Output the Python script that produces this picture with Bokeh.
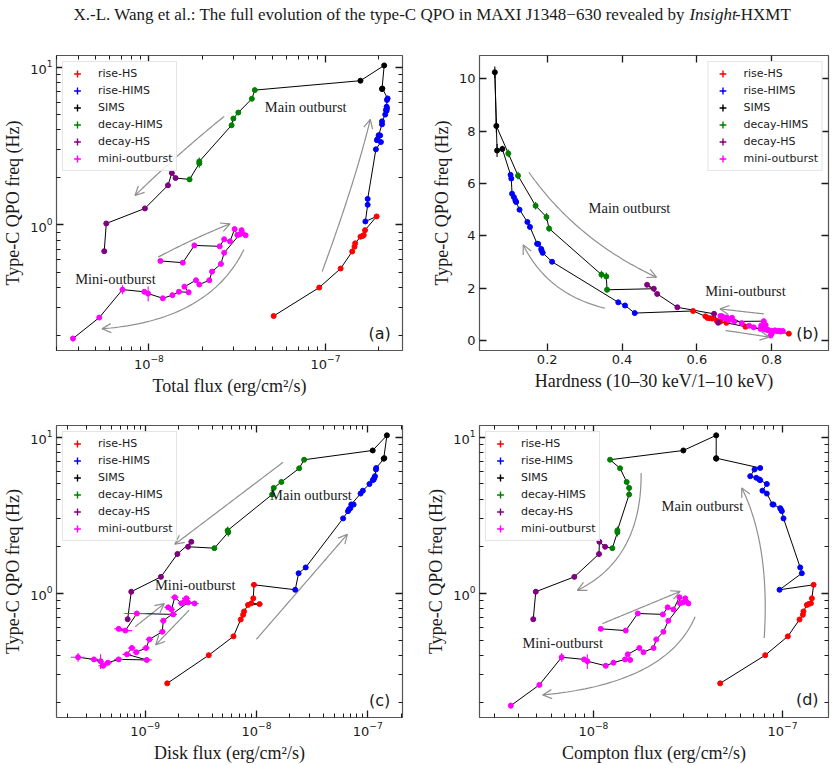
import numpy as np
from bokeh.plotting import figure
from bokeh.layouts import column, row
from bokeh.models import (Range1d, FixedTicker, LogAxis, LinearAxis, Legend,
                          LegendItem, Arrow, OpenHead, CustomJSTickFormatter)
from bokeh.core.properties import value
from bokeh.embed import file_html
from bokeh.resources import INLINE

# ---------------------------------------------------------------------------
# Type-C QPO frequency (Hz) and its error, per spectral state, in time order
# ---------------------------------------------------------------------------
freq_rise_hs = [0.264, 0.40, 0.528, 0.677, 0.726, 0.763, 0.84, 0.85, 0.86, 0.925, 1.13]
freq_rise_hims = [1.05, 1.34, 1.46, 3.01, 3.35, 3.44, 3.50, 3.69, 3.70, 4.34, 4.53,
                  5.00, 5.29, 5.35, 5.48, 5.61, 6.19, 6.33]
freq_sims = [7.32, 7.26, 10.25, 8.20]
freq_decay_hims = [7.15, 6.30, 5.15, 4.72, 4.28, 2.52, 2.45, 1.94]
freq_decay_hs = [1.98, 2.13, 1.78, 1.27, 1.02, 0.68]
freq_mini = [0.59, 0.575, 0.74, 0.73, 0.81, 0.785, 0.94, 0.86, 0.925, 0.885, 0.858, 0.87,
             0.665, 0.565, 0.505, 0.445, 0.418, 0.445, 0.405, 0.373, 0.376, 0.358, 0.342,
             0.366, 0.376, 0.388, 0.258, 0.19]

ferr_rise_hs = [0.006, 0.008, 0.01, 0.012, 0.012, 0.014, 0.015, 0.015, 0.015, 0.02, 0.03]
ferr_rise_hims = [0.02, 0.03, 0.03, 0.05, 0.05, 0.05, 0.05, 0.06, 0.06, 0.06, 0.06,
                  0.07, 0.07, 0.07, 0.07, 0.07, 0.08, 0.08]
ferr_sims = [0.12, 0.25, 0.22, 0.25]
ferr_decay_hims = [0.15, 0.15, 0.14, 0.15, 0.12, 0.15, 0.15, 0.05]
ferr_decay_hs = [0.04, 0.07, 0.07, 0.03, 0.02, 0.02]
ferr_mini = [0.01, 0.01, 0.02, 0.01, 0.01, 0.01, 0.015, 0.01, 0.01, 0.01, 0.01, 0.01,
             0.01, 0.01, 0.01, 0.01, 0.01, 0.01, 0.012, 0.01, 0.01, 0.01, 0.01,
             0.04, 0.01, 0.025, 0.008, 0.008]

# (a) total flux, erg/cm^2/s
tot_rise_hs = [5.09e-8, 9.22e-8, 1.219e-7, 1.417e-7, 1.46e-7, 1.473e-7, 1.578e-7,
               1.626e-7, 1.647e-7, 1.675e-7, 1.949e-7]
tot_rise_hims = [1.683e-7, 1.734e-7, 1.734e-7, 1.93e-7, 2.06e-7, 1.956e-7, 1.97e-7,
                 2.04e-7, 2.0e-7, 2.09e-7, 2.09e-7, 2.18e-7, 2.22e-7, 2.20e-7, 2.23e-7,
                 2.22e-7, 2.23e-7, 2.25e-7]
tot_sims = [2.10e-7, 2.09e-7, 2.15e-7, 1.578e-7]
tot_decay_hims = [3.98e-8, 3.83e-8, 3.21e-8, 3.01e-8, 2.94e-8, 1.93e-8, 1.93e-8, 1.70e-8]
tot_decay_hs = [1.416e-8, 1.35e-8, 1.283e-8, 9.5e-9, 5.74e-9, 5.59e-9]
tot_mini = [1.162e-8, 1.557e-8, 1.81e-8, 2.52e-8, 2.67e-8, 2.88e-8, 3.06e-8, 3.17e-8,
            3.35e-8, 3.38e-8, 3.53e-8, 3.27e-8, 2.67e-8, 2.56e-8, 2.28e-8, 2.20e-8,
            1.93e-8, 1.85e-8, 1.59e-8, 1.68e-8, 1.48e-8, 1.36e-8, 1.20e-8, 9.91e-9,
            9.42e-9, 7.09e-9, 5.24e-9, 3.72e-9]

# (b) hardness ratio, 10-30 keV / 1-10 keV
hr_rise_hs = [0.846, 0.79, 0.730, 0.679, 0.663, 0.653, 0.641, 0.635, 0.629, 0.623, 0.59]
hr_rise_hims = [0.434, 0.408, 0.390, 0.213, 0.188, 0.185, 0.184, 0.176, 0.173, 0.154,
                0.147, 0.126, 0.117, 0.115, 0.111, 0.106, 0.104, 0.102]
hr_sims = [0.080, 0.066, 0.060, 0.064]
hr_decay_hims = [0.096, 0.122, 0.169, 0.198, 0.205, 0.345, 0.358, 0.360]
hr_decay_hs = [0.485, 0.467, 0.494, 0.548, 0.646, 0.657]
hr_mini = [0.784, 0.772, 0.779, 0.70, 0.69, 0.685, 0.663, 0.672, 0.668, 0.68, 0.676,
           0.694, 0.72, 0.74, 0.752, 0.77, 0.782, 0.775, 0.79, 0.80, 0.81, 0.816, 0.824,
           0.83, 0.82, 0.808, 0.80, 0.797]

# (c) disk flux, erg/cm^2/s (last two mini-outburst observations have no disk flux)
disk_rise_hs = [1.58e-9, 3.73e-9, 6.22e-9, 7.22e-9, 7.59e-9, 7.74e-9, 8.4e-9, 1.066e-8,
                9.0e-9, 9.37e-9, 9.5e-9]
disk_rise_hims = [2.23e-8, 2.39e-8, 2.77e-8, 6.0e-8, 6.64e-8, 6.78e-8, 6.97e-8, 7.46e-8,
                  7.11e-8, 8.61e-8, 9.03e-8, 1.035e-7, 1.107e-7, 1.13e-7, 1.145e-7,
                  1.16e-7, 1.185e-7, 1.19e-7]
disk_sims = [1.407e-7, 1.39e-7, 1.485e-7, 1.107e-7]
disk_decay_hims = [2.68e-8, 2.42e-8, 1.675e-8, 1.43e-8, 1.383e-8, 5.51e-9, 5.58e-9, 4.19e-9]
disk_decay_hs = [2.43e-9, 2.6e-9, 1.95e-9, 1.387e-9, 7.51e-10, 6.97e-10]
disk_mini = [5.79e-10, 6.64e-10, 8.43e-10, 1.786e-9, 1.612e-9, 1.725e-9, 1.848e-9,
             2.12e-9, 2.345e-9, 2.27e-9, 2.78e-9, 2.43e-9, 1.456e-9, 1.426e-9, 1.093e-9,
             1.02e-9, 8.32e-10, 7.61e-10, 6.87e-10, 1.035e-9, 5.79e-10, 4.63e-10,
             4.2e-10, 3.98e-10, 3.47e-10, 2.5e-10]
disk_err_rise_hs = [0.5e-10, 1e-10, 1.5e-10, 2e-10, 2e-10, 2e-10, 3e-10, 7e-10, 3e-10,
                    3e-10, 6e-10]
disk_err_mini = [0.5e-10, 1.0e-10, 1.9e-10, 1.5e-10, 1.2e-10, 1.2e-10, 1.5e-10, 1.5e-10,
                 2.0e-10, 1.5e-10, 2.5e-10, 2.0e-10, 1.0e-10, 1.0e-10, 0.8e-10, 0.8e-10,
                 0.6e-10, 0.6e-10, 0.6e-10, 1.1e-10, 0.5e-10, 0.4e-10, 0.4e-10, 0.3e-10,
                 0.3e-10, 0.35e-10]

# (d) Compton flux, erg/cm^2/s
comp_rise_hs = [4.68e-8, 8.1e-8, 1.067e-7, 1.23e-7, 1.281e-7, 1.29e-7, 1.345e-7, 1.373e-7,
                1.413e-7, 1.43e-7, 1.46e-7]
comp_rise_hims = [9.64e-8, 1.265e-7, 1.24e-7, 1.012e-7, 9.92e-8, 9.8e-8, 9.72e-8, 8.96e-8,
                  8.85e-8, 8.26e-8, 7.83e-8, 8.26e-8, 7.62e-8, 7.53e-8, 7.26e-8, 6.75e-8,
                  7.11e-8, 7.62e-8]
comp_sims = [4.46e-8, 4.46e-8, 4.46e-8, 2.99e-8]
comp_decay_hims = [1.225e-8, 1.384e-8, 1.50e-8, 1.545e-8, 1.545e-8, 1.34e-8, 1.34e-8, 1.26e-8]
comp_decay_hs = [1.153e-8, 1.076e-8, 1.071e-8, 7.93e-9, 4.96e-9, 4.81e-9]
comp_mini = [1.094e-8, 1.483e-8, 1.717e-8, 2.33e-8, 2.47e-8, 2.65e-8, 2.85e-8, 2.87e-8,
             3.06e-8, 3.09e-8, 3.18e-8, 2.97e-8, 2.49e-8, 2.345e-8, 2.15e-8, 2.08e-8,
             1.84e-8, 1.75e-8, 1.52e-8, 1.565e-8, 1.47e-8, 1.277e-8, 1.162e-8, 9.29e-9,
             8.93e-9, 6.8e-9, 5.18e-9, 3.66e-9]

STATES = ["rise-HS", "rise-HIMS", "SIMS", "decay-HIMS", "decay-HS", "mini-outburst"]
COLORS = ["#ff0000", "#0000ff", "#000000", "#008000", "#800080", "#ff00ff"]
FREQ = [freq_rise_hs, freq_rise_hims, freq_sims, freq_decay_hims, freq_decay_hs, freq_mini]
FERR = [ferr_rise_hs, ferr_rise_hims, ferr_sims, ferr_decay_hims, ferr_decay_hs, ferr_mini]

SERIF = "Liberation Serif"
SANS = "DejaVu Sans"
INK = "#1a1a1a"
ARROW_C = "#8f8f8f"
YLABEL = "Type-C QPO freq (Hz)"


def log_ticks(lo_exp, hi_exp):
    major = [10.0 ** e for e in range(lo_exp, hi_exp + 1)]
    minor = [m * 10.0 ** e for e in range(lo_exp - 1, hi_exp + 1) for m in range(2, 10)]
    return major, minor


def style_axis(ax):
    ax.major_tick_in = 7
    ax.major_tick_out = 0
    ax.minor_tick_in = 4
    ax.minor_tick_out = 0
    ax.major_tick_line_width = 1.3
    ax.minor_tick_line_width = 1
    ax.major_tick_line_color = INK
    ax.minor_tick_line_color = INK
    ax.axis_line_color = None
    ax.major_label_text_font = SANS
    ax.major_label_text_font_size = "13px"
    ax.major_label_text_color = INK
    ax.major_label_standoff = 4
    ax.axis_label_text_font = SERIF
    ax.axis_label_text_font_size = "18px"
    ax.axis_label_text_font_style = "normal"
    ax.axis_label_text_color = INK
    ax.axis_label_standoff = 4


def tick_only_axis(cls, ticker):
    # frame-side axis that carries ticks only (top and right edges)
    ax = cls(ticker=ticker, formatter=CustomJSTickFormatter(code="return ' '"))
    style_axis(ax)
    ax.major_label_text_font_size = "2px"
    ax.major_label_text_alpha = 0
    ax.major_label_standoff = 0
    return ax


def make_panel(width, height, borders, x_log, x_range, y_log, y_range,
               x_ticks, y_ticks, xlabel):
    left, right, top, bottom = borders
    p = figure(width=width, height=height,
               x_axis_type="log" if x_log else "linear",
               y_axis_type="log" if y_log else "linear",
               x_range=Range1d(*x_range), y_range=Range1d(*y_range),
               toolbar_location=None, output_backend="svg",
               min_border_left=left, min_border_right=right,
               min_border_top=top, min_border_bottom=bottom)
    p.grid.visible = False
    p.outline_line_color = "#555555"
    p.outline_line_width = 1.2
    xt = FixedTicker(ticks=x_ticks[0], minor_ticks=x_ticks[1])
    yt = FixedTicker(ticks=y_ticks[0], minor_ticks=y_ticks[1])
    p.xaxis.ticker = xt
    p.yaxis.ticker = yt
    p.xaxis.axis_label = xlabel
    p.yaxis.axis_label = YLABEL
    for ax in list(p.xaxis) + list(p.yaxis):
        style_axis(ax)
    p.add_layout(tick_only_axis(LogAxis if x_log else LinearAxis, xt), "above")
    p.add_layout(tick_only_axis(LogAxis if y_log else LinearAxis, yt), "right")
    return p


def draw_states(p, xs, xerrs=None):
    # time-ordered track of the main outburst, then of the mini-outburst
    main_x, main_f = [], []
    for i in range(5):
        main_x += list(xs[i])
        main_f += FREQ[i][:len(xs[i])]
    p.line(main_x, main_f, line_color="black", line_width=1)
    mini_x = list(xs[5])
    p.line(mini_x, FREQ[5][:len(mini_x)], line_color="black", line_width=1)

    items = []
    for i, name in enumerate(STATES):
        x = list(xs[i])
        n = len(x)
        f = FREQ[i][:n]
        e = FERR[i][:n]
        c = COLORS[i]
        p.segment(x0=x, y0=[a - b for a, b in zip(f, e)],
                  x1=x, y1=[a + b for a, b in zip(f, e)],
                  line_color=c, line_width=1.1)
        if xerrs is not None and xerrs[i] is not None:
            xe = xerrs[i][:n]
            p.segment(x0=[a - b for a, b in zip(x, xe)], y0=f,
                      x1=[a + b for a, b in zip(x, xe)], y1=f,
                      line_color=c, line_width=1.1)
        p.scatter(x, f, size=5, fill_color=c, line_color=c)
        # error-bar style legend keys; their y is undefined so nothing lands in the frame
        cross = p.scatter(x[:1], [float("nan")], marker="cross", size=12,
                          line_color=c, line_width=1.4)
        dot = p.scatter(x[:1], [float("nan")], marker="dot", size=12,
                        line_color=c, fill_color=c, line_width=2.5)
        items.append(LegendItem(label=name, renderers=[cross, dot]))
    return items


def add_legend(p, items, location):
    leg = Legend(items=items, location=location, label_text_font=SANS,
                 label_text_font_size="11px", label_text_color=INK,
                 glyph_width=22, glyph_height=17, label_height=17, spacing=0,
                 padding=3, margin=6, label_standoff=10,
                 border_line_color="#cccccc", border_line_width=1,
                 background_fill_color="white", background_fill_alpha=0.85)
    p.add_layout(leg)


def curved_arrow(p, start, ctrl, end, x_log, y_log):
    fx = np.log10 if x_log else np.asarray
    gx = (lambda v: 10.0 ** v) if x_log else (lambda v: v)
    fy = np.log10 if y_log else np.asarray
    gy = (lambda v: 10.0 ** v) if y_log else (lambda v: v)
    P0 = np.array([fx(start[0]), fy(start[1])], dtype=float)
    C = np.array([fx(ctrl[0]), fy(ctrl[1])], dtype=float)
    P1 = np.array([fx(end[0]), fy(end[1])], dtype=float)
    t = np.linspace(0, 1, 50)[:, None]
    pts = (1 - t) ** 2 * P0 + 2 * (1 - t) * t * C + t ** 2 * P1
    p.line(list(gx(pts[:, 0])), list(gy(pts[:, 1])), line_color=ARROW_C, line_width=1.2)
    tail = P1 - 0.04 * (P1 - C)
    p.add_layout(Arrow(end=OpenHead(size=9, line_color=ARROW_C, line_width=1.2),
                       x_start=float(gx(tail[0])), y_start=float(gy(tail[1])),
                       x_end=float(gx(P1[0])), y_end=float(gy(P1[1])),
                       line_color=ARROW_C, line_width=1.2))


def note(p, x, y, text, size="14.5px", font=SERIF, align="center"):
    p.text(x=[x], y=[y], text=[text], text_font=value(font), text_font_size=size,
           text_color=INK, text_align=align, text_baseline="middle")


# ---- header line ----
head = figure(width=835, height=40, x_range=Range1d(0, 835), y_range=Range1d(0, 40),
              toolbar_location=None, output_backend="svg", min_border=0)
head.axis.visible = False
head.grid.visible = False
head.outline_line_color = None
TITLE_SIZE = "17px"
head.text(x=[684.6], y=[26],
          text=["X.-L. Wang et al.: The full evolution of the type-C QPO in MAXI J1348\u2212630 revealed by"],
          text_font=value(SERIF), text_font_size=TITLE_SIZE, text_color=INK,
          text_align="right", text_baseline="middle")
head.text(x=[688.9], y=[26], text=["Insight"], text_font=value(SERIF), text_font_size=TITLE_SIZE,
          text_font_style="italic", text_color=INK, text_align="left", text_baseline="middle")
head.text(x=[734.6], y=[26], text=["-HXMT"], text_font=value(SERIF), text_font_size=TITLE_SIZE,
          text_color=INK, text_align="left", text_baseline="middle")

freq_log_ticks = log_ticks(-1, 1)

# ---- (a) total flux ----
pa = make_panel(420, 370, (52, 18, 15, 60), True, (3.0e-9, 2.73e-7), True, (0.1595, 11.85),
                log_ticks(-9, -7), freq_log_ticks, "Total flux (erg/cm\u00b2/s)")
for s, c, e in [((2.67e-8, 4.87), (1.46e-8, 2.82), (8.35e-9, 1.535)),
                ((9.58e-8, 0.506), (1.46e-7, 1.82), (1.795e-7, 4.66)),
                ((1.128e-8, 0.624), (1.773e-8, 0.815), (2.88e-8, 1.015)),
                ((3.455e-8, 0.698), (2.2e-8, 0.247), (5.43e-9, 0.219))]:
    curved_arrow(pa, s, c, e, True, True)
items = draw_states(pa, [tot_rise_hs, tot_rise_hims, tot_sims, tot_decay_hims,
                         tot_decay_hs, tot_mini])
note(pa, 7.73e-8, 5.57, "Main outburst")
note(pa, 6.47e-9, 0.452, "Mini-outburst")
note(pa, 2.345e-7, 0.2046, "(a)", size="16px", font=SANS, align="right")
add_legend(pa, items, "top_left")

# ---- (b) hardness ----
pb = make_panel(415, 370, (59, 7, 15, 60), False, (0.019, 0.952), False, (-0.38, 10.89),
                ([0.2, 0.4, 0.6, 0.8], []), ([0, 2, 4, 6, 8, 10], []),
                "Hardness (10\u201330 keV/1\u201310 keV)")
for s, c, e in [((0.151, 6.43), (0.280, 3.82), (0.492, 2.42)),
                ((0.354, 1.236), (0.200, 1.78), (0.136, 3.656)),
                ((0.779, 1.018), (0.72, 1.11), (0.662, 1.21)),
                ((0.677, 0.382), (0.735, 0.266), (0.793, 0.13))]:
    curved_arrow(pb, s, c, e, False, False)
items = draw_states(pb, [hr_rise_hs, hr_rise_hims, hr_sims, hr_decay_hims,
                         hr_decay_hs, hr_mini])
note(pb, 0.42, 5.07, "Main outburst")
note(pb, 0.730, 1.91, "Mini-outburst")
note(pb, 0.926, 0.28, "(b)", size="16px", font=SANS, align="right")
add_legend(pb, items, "top_right")

# ---- (c) disk flux ----
pc = make_panel(420, 355, (52, 18, 15, 45), True, (1.6e-10, 2.05e-7), True, (0.1595, 11.85),
                log_ticks(-10, -7), freq_log_ticks, "Disk flux (erg/cm\u00b2/s)")
for s, c, e in [((1.73e-8, 6.88), (5.66e-9, 3.76), (1.85e-9, 2.055)),
                ((1.0e-8, 0.506), (2.56e-8, 1.097), (6.55e-8, 2.38)),
                ((8.15e-10, 0.609), (1.1e-9, 0.722), (1.486e-9, 0.856)),
                ((2.48e-9, 0.776), (1.756e-9, 0.601), (1.245e-9, 0.466))]:
    curved_arrow(pc, s, c, e, True, True)
items = draw_states(pc, [disk_rise_hs, disk_rise_hims, disk_sims, disk_decay_hims,
                         disk_decay_hs, disk_mini],
                    xerrs=[disk_err_rise_hs, None, None, None, None, disk_err_mini])
note(pc, 3.09e-8, 4.27, "Main outburst")
note(pc, 2.82e-9, 1.13, "Mini-outburst")
note(pc, 1.59e-7, 0.2055, "(c)", size="16px", font=SANS, align="right")
add_legend(pc, items, "top_left")

# ---- (d) Compton flux ----
pd_ = make_panel(415, 355, (59, 7, 15, 45), True, (2.5e-9, 1.75e-7), True, (0.1595, 11.85),
                 log_ticks(-9, -7), freq_log_ticks, "Compton flux (erg/cm\u00b2/s)")
for s, c, e in [((1.788e-8, 5.87), (1.802e-8, 1.664), (8.23e-9, 1.04)),
                ((8.0e-8, 0.515), (8.6e-8, 2.02), (6.09e-8, 4.72)),
                ((1.116e-8, 0.637), (1.79e-8, 0.807), (2.874e-8, 1.024)),
                ((3.45e-8, 0.705), (2.44e-8, 0.264), (5.4e-9, 0.2225))]:
    curved_arrow(pd_, s, c, e, True, True)
items = draw_states(pd_, [comp_rise_hs, comp_rise_hims, comp_sims, comp_decay_hims,
                          comp_decay_hs, comp_mini])
note(pd_, 3.77e-8, 3.61, "Main outburst")
note(pd_, 6.88e-9, 0.479, "Mini-outburst")
note(pd_, 1.55e-7, 0.209, "(d)", size="16px", font=SANS, align="right")
add_legend(pd_, items, "top_left")

layout = column(head, row(pa, pb), row(pc, pd_))
open("out.html", "w").write(file_html(layout, INLINE))
